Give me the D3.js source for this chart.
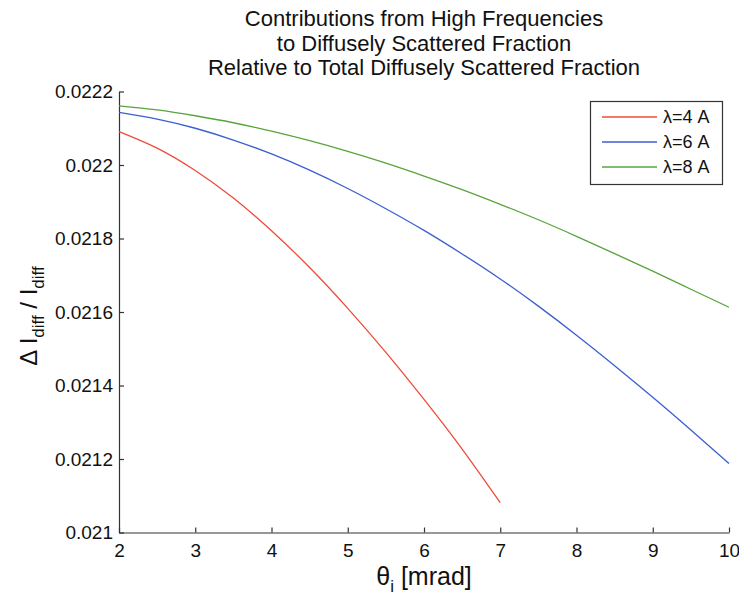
<!DOCTYPE html>
<html>
<head>
<meta charset="utf-8">
<script src="https://cdnjs.cloudflare.com/ajax/libs/d3/7.8.5/d3.min.js"></script>
<style>
  body { margin: 0; background: #fff; }
  text { font-family: "Liberation Sans", Arial, Helvetica, sans-serif; fill: #111; }
</style>
</head>
<body>
<div id="chart"></div>
<script>
// values
var titleLines = ["Contributions from High Frequencies",
                  "to Diffusely Scattered Fraction",
                  "Relative to Total Diffusely Scattered Fraction"];
var xTicks = [2, 3, 4, 5, 6, 7, 8, 9, 10];
var yTicks = [0.021, 0.0212, 0.0214, 0.0216, 0.0218, 0.022, 0.0222];
var yTickLabels = ["0.021", "0.0212", "0.0214", "0.0216", "0.0218", "0.022", "0.0222"];

var thetaRed = [2, 2.5, 3, 3.5, 4, 4.5, 5, 5.5, 6, 6.5, 7];
var lambda4 = [0.022091, 0.022046, 0.021985, 0.02191, 0.021821, 0.021721,
               0.02161, 0.02149, 0.021362, 0.021227, 0.021081];

var theta = [2, 2.5, 3, 3.5, 4, 4.5, 5, 5.5, 6, 6.5, 7, 7.5, 8, 8.5, 9, 9.5, 10];
var lambda6 = [0.022143, 0.022125, 0.0221, 0.022068, 0.02203, 0.021986, 0.021936,
               0.021881, 0.021822, 0.021758, 0.02169, 0.021616, 0.021537, 0.021454,
               0.021368, 0.021279, 0.021188];
var lambda8 = [0.022161, 0.02215, 0.022134, 0.022115, 0.022092, 0.022066, 0.022037,
               0.022005, 0.02197, 0.021933, 0.021893, 0.021851, 0.021806, 0.021759,
               0.021711, 0.021662, 0.021613];

var seriesNames = ["\u03bb=4 A", "\u03bb=6 A", "\u03bb=8 A"];
var seriesColors = ["#ee4b3b", "#3b5fd0", "#58a43c"];

var width = 739, height = 598;
var plot = {left: 119, right: 729, top: 91.5, bottom: 532.5};

var svg = d3.select("#chart").append("svg")
    .attr("width", width)
    .attr("height", height);

var x = d3.scaleLinear().domain([2, 10]).range([plot.left, plot.right]);
var y = d3.scaleLinear().domain([0.021, 0.0222]).range([plot.bottom, plot.top]);

// title
svg.append("text")
    .attr("text-anchor", "middle")
    .style("font-size", "22px")
    .selectAll("tspan")
    .data(titleLines)
    .enter().append("tspan")
    .attr("x", (plot.left + plot.right) / 2)
    .attr("y", function(d, i) { return 26 + i * 24.5; })
    .text(function(d) { return d; });

// axes, MATLAB style ticks pointing inward
var xAxis = d3.axisBottom(x).tickValues(xTicks).tickFormat(d3.format("d"))
    .tickSizeInner(-5).tickSizeOuter(0).tickPadding(10);
var yAxis = d3.axisLeft(y).tickValues(yTicks)
    .tickFormat(function(d, i) { return yTickLabels[i]; })
    .tickSizeInner(-5).tickSizeOuter(0).tickPadding(6);

var gx = svg.append("g")
    .attr("transform", "translate(0," + plot.bottom + ")")
    .call(xAxis);
var gy = svg.append("g")
    .attr("transform", "translate(" + plot.left + ",0)")
    .call(yAxis);

[gx, gy].forEach(function(g) {
    g.select(".domain").attr("stroke", "#333").attr("stroke-width", 1.2);
    g.selectAll(".tick line").attr("stroke", "#333").attr("stroke-width", 1.2);
    g.selectAll(".tick text").style("font-size", "19px").attr("fill", "#111")
        .style("font-family", "'Liberation Sans', Arial, sans-serif");
});
// MATLAB puts the x labels a bit lower than the y label at the corner
gx.selectAll(".tick text").attr("dy", "0.75em");

// lines
var line = d3.line()
    .x(function(d) { return x(d[0]); })
    .y(function(d) { return y(d[1]); })
    .curve(d3.curveNatural);

var allSeries = [d3.zip(thetaRed, lambda4), d3.zip(theta, lambda6), d3.zip(theta, lambda8)];

svg.append("g").selectAll("path")
    .data(allSeries)
    .enter().append("path")
    .attr("d", line)
    .attr("fill", "none")
    .attr("stroke", function(d, i) { return seriesColors[i]; })
    .attr("stroke-width", 1.3);

// axis labels
var ylab = svg.append("text")
    .attr("transform", "translate(37," + ((plot.top + plot.bottom) / 2 + 4) + ") rotate(-90)")
    .attr("text-anchor", "middle")
    .style("font-size", "24px");
ylab.append("tspan").text("\u0394 I");
ylab.append("tspan").attr("dy", 7).style("font-size", "17px").text("diff");
ylab.append("tspan").attr("dy", -7).text(" / I");
ylab.append("tspan").attr("dy", 7).style("font-size", "17px").text("diff");

var xlab = svg.append("text")
    .attr("x", (plot.left + plot.right) / 2)
    .attr("y", 585)
    .attr("text-anchor", "middle")
    .style("font-size", "25px");
xlab.append("tspan").text("\u03b8");
xlab.append("tspan").attr("dy", 7).style("font-size", "17px").text("i");
xlab.append("tspan").attr("dy", -7).text(" [mrad]");

// legend
var legend = svg.append("g");
legend.append("rect")
    .attr("x", 590.5).attr("y", 101.5)
    .attr("width", 132).attr("height", 83)
    .attr("fill", "#fff")
    .attr("stroke", "#333")
    .attr("stroke-width", 1.2);

var items = legend.selectAll(".item")
    .data(seriesNames)
    .enter().append("g")
    .attr("class", "item")
    .attr("transform", function(d, i) { return "translate(0," + (117 + i * 25) + ")"; });

items.append("line")
    .attr("x1", 602).attr("x2", 657)
    .attr("stroke", function(d, i) { return seriesColors[i]; })
    .attr("stroke-width", 1.3);

items.append("text")
    .attr("x", 663)
    .attr("dy", "0.36em")
    .style("font-size", "18px")
    .text(function(d) { return d; });
</script>
</body>
</html>
